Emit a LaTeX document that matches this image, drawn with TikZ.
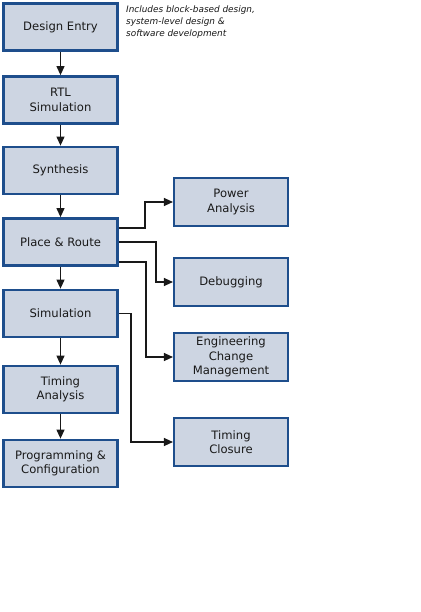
\documentclass[tikz,border=0pt]{standalone}
\usepackage{fontspec}
\setmainfont{DejaVu Sans}
\usepackage{xcolor}
\usetikzlibrary{arrows.meta,positioning}
\definecolor{stepfill}{RGB}{205, 213, 226}
\definecolor{stepblue}{RGB}{30, 78, 140}
\definecolor{textdark}{RGB}{25, 25, 25}

\begin{document}
\begin{tikzpicture}[x=1pt, y=-1pt]
    % Styles
    \tikzstyle{mainstep} = [draw=stepblue, fill=stepfill, line width=2.8pt, minimum width=114pt, minimum height=47pt, align=center, text=textdark, font=\fontsize{11.6}{14.3}\selectfont, inner sep=0pt]
    \tikzstyle{sidestep} = [draw=stepblue, fill=stepfill, line width=1.6pt, minimum width=114.5pt, minimum height=48.5pt, align=center, text=textdark, font=\fontsize{11.6}{14.3}\selectfont, inner sep=0pt]
    \tikzstyle{arrow} = [line width=1.2pt, -{Triangle[length=9pt, width=8pt]}, textdark]

    \useasboundingbox[fill=white] (0,0) rectangle (420,612);

    % Main flow
    \node[mainstep] (entry) at (60.5, 27) {Design Entry};
    \node[mainstep] (rtl) at (60.5, 100) {RTL\\Simulation};
    \node[mainstep] (synth) at (60.5, 170.5) {Synthesis};
    \node[mainstep] (pnr) at (60.5, 242) {Place \& Route};
    \node[mainstep] (sim) at (60.5, 313.5) {Simulation};
    \node[mainstep] (timing) at (60.5, 389.5) {Timing\\Analysis};
    \node[mainstep] (prog) at (60.5, 463.5) {Programming \&\\Configuration};

    % Note
    \node[anchor=north west, align=left, inner sep=0pt, text=textdark, font=\fontsize{8.9}{11.9}\selectfont\itshape] (note) at (126, 6) {Includes block-based design,\\system-level design \&\\software development};

    % Side tools
    \node[sidestep] (power) at (231, 202) {Power\\Analysis};
    \node[sidestep] (debug) at (231, 282) {Debugging};
    \node[sidestep] (eco) at (231, 357) {Engineering\\Change\\Management};
    \node[sidestep] (closure) at (231, 442) {Timing\\Closure};

    % Arrows
    \draw[arrow] (entry) -- (rtl);
    \draw[arrow] (rtl) -- (synth);
    \draw[arrow] (synth) -- (pnr);
    \draw[arrow] (pnr) -- (sim);
    \draw[arrow] (sim) -- (timing);
    \draw[arrow] (timing) -- (prog);

    \draw[arrow] ([yshift=14pt]pnr.east) -- ++(26pt,0) |- (power.west);
    \draw[arrow] (pnr.east) -- ++(37pt,0) |- (debug.west);
    \draw[arrow] ([yshift=-20pt]pnr.east) -- ++(27pt,0) |- (eco.west);
    \draw[arrow] (sim.east) -- ++(12pt,0) |- (closure.west);
\end{tikzpicture}
\end{document}
